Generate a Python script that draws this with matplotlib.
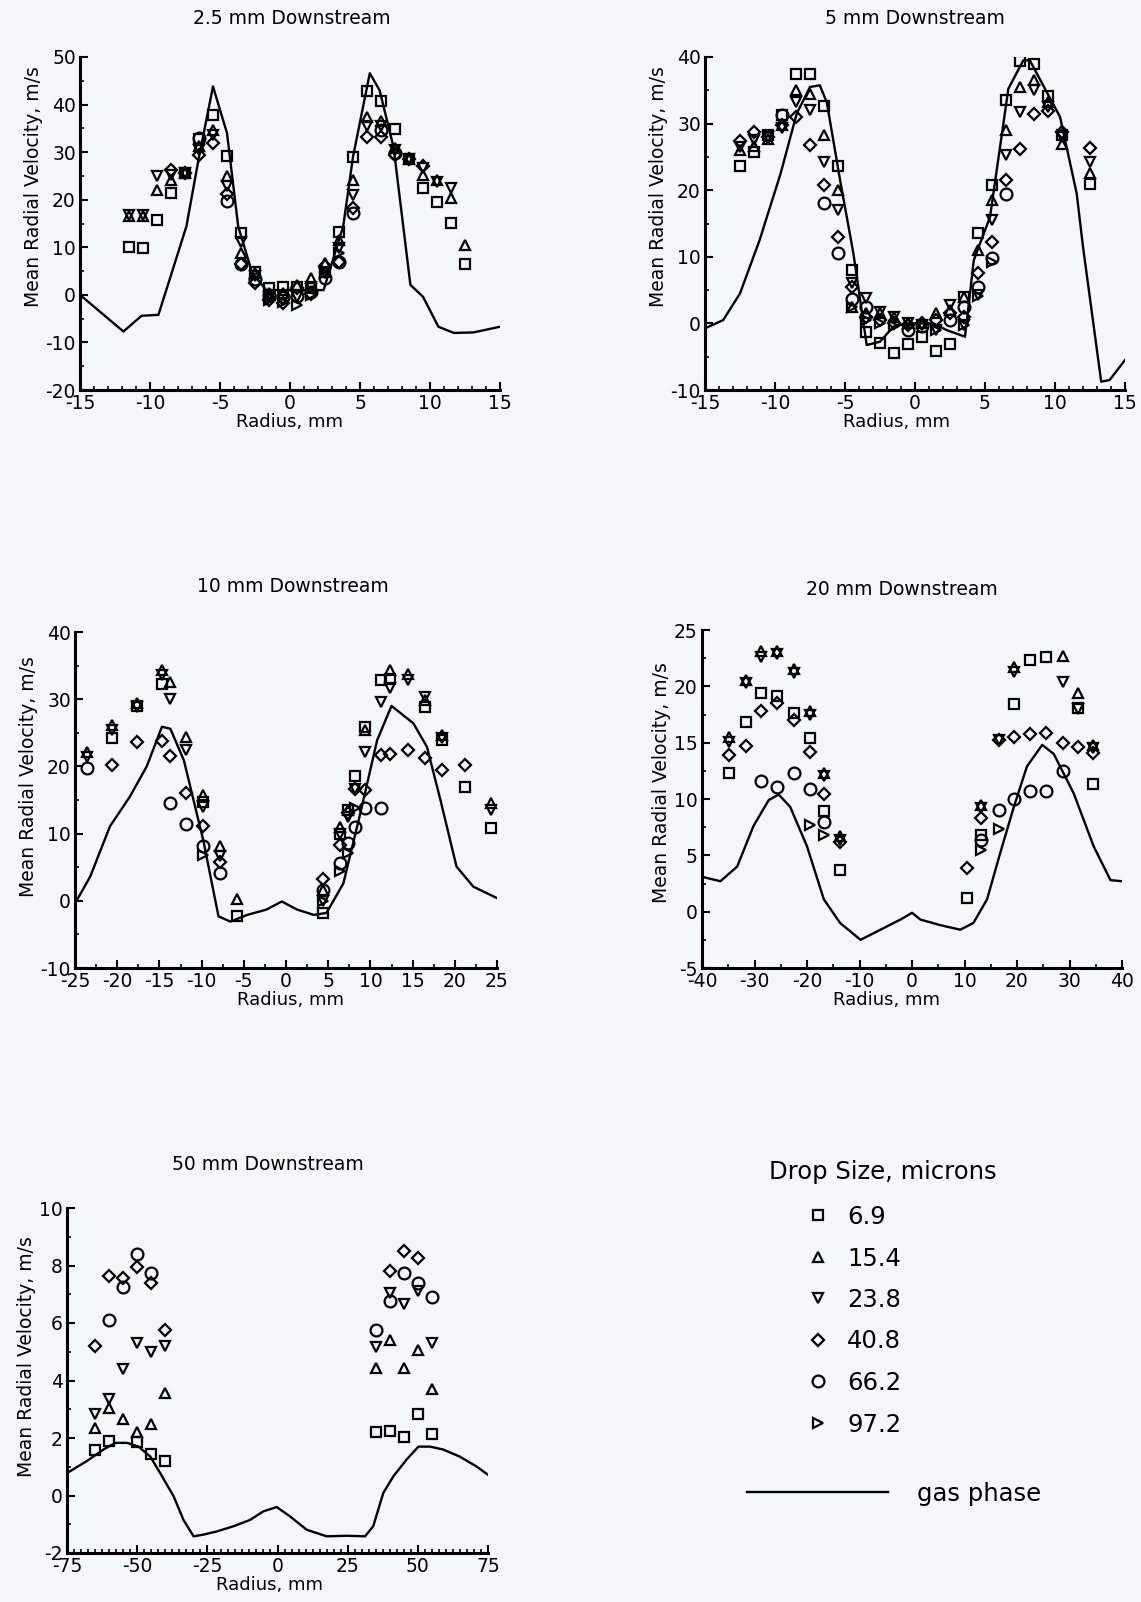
import numpy as np
import matplotlib
matplotlib.use("Agg")
import matplotlib.pyplot as plt
from matplotlib.ticker import MultipleLocator
from matplotlib.lines import Line2D

plt.rcParams['font.family'] = ['DejaVu Sans']
plt.rcParams['axes.unicode_minus'] = False

# ---------------- data ----------------
sizes = ['6.9', '15.4', '23.8', '40.8', '66.2', '97.2']
markers = ['s', '^', 'v', 'D', 'o', '>']
msizes = [6.5, 7.5, 7.5, 6.5, 8.5, 6.5]

# 2.5 mm downstream
p1_r = [-11.5, -10.5, -9.5, -8.5, -7.5, -6.5, -5.5, -4.5, -3.5, -2.5, -1.5, -0.5, 0.5,
        1.5, 2.5, 3.5, 4.5, 5.5, 6.5, 7.5, 8.5, 9.5, 10.5, 11.5, 12.5]
p1_sq = [10.0, 9.8, 15.8, 21.5, 25.6, 32.8, 37.9, 29.2, 13.1, 4.9, 1.4, 1.7, 1.7,
         1.4, 4.9, 13.3, 29.0, 42.8, 40.8, 34.9, 28.5, 22.4, 19.5, 15.2, 6.5]
p1_tu = [16.6, 16.5, 22.0, 24.2, 25.6, 31.3, 34.7, 24.9, 8.8, 4.6, 0.4, 0.4, 2.1,
         3.5, 6.7, 11.6, 24.2, 37.4, 36.5, 30.9, 28.5, 25.2, 24.2, 20.3, 10.5]
p1_td = [16.8, 16.8, 24.9, 25.2, 25.6, 30.5, 33.7, 22.8, 11.2, 3.9, -0.4, -1.1, -0.4,
         1.7, 4.6, 9.8, 21.0, 35.6, 35.4, 30.5, 28.5, 26.6, 23.8, 22.4, None]
p1_di = [None, None, None, 26.3, 25.6, 29.5, 31.9, 21.2, 6.5, 2.5, -1.1, -1.8, 1.4,
         0.2, 6.0, 7.0, 18.2, 33.2, 33.2, 29.5, 28.5, 27.1, None, None, None]
p1_ci = [None, None, None, None, None, 32.9, None, 19.8, 6.5, 3.3, 0.0, -0.4, -0.2,
         0.7, 3.5, 7.0, 17.3, None, 34.7, 29.8, None, None, None, None, None]
p1_rt = [None, None, None, None, None, None, None, None, None, None, -1.1, -1.4, -2.1,
         0.0, 4.6, 8.8, None, None, None, None, None, None, None, None, None]
p1_gas_r = [-15, -11.9, -10.6, -9.4, -8.45, -7.4, -6.5, -5.5, -4.5, -3.7, -2.7, -1.7, 0,
            1.5, 2.4, 3.8, 4.5, 5.7, 6.4, 7.4, 8.6, 9.5, 10.6, 11.7, 13.1, 15]
p1_gas_v = [0, -7.7, -4.4, -4.2, 4.6, 14.4, 29, 43.8, 34, 14.4, 4.6, 1.0, 1.0,
            1.0, 1.0, 14.4, 29, 46.6, 43, 31, 2.1, -0.4, -6.7, -8, -7.9, -6.7]

# 5 mm downstream
p2_r = [-12.5, -11.5, -10.5, -9.5, -8.5, -7.5, -6.5, -5.5, -4.5, -3.5, -2.5, -1.5, -0.5,
        0.5, 1.5, 2.5, 3.5, 4.5, 5.5, 6.5, 7.5, 8.5, 9.5, 10.5, 12.5]
p2_sq = [23.6, 25.75, 28.25, 31.25, 37.5, 37.5, 32.6, 23.6, 8.0, -1.25, -3.0, -4.4, -3.1,
         -2.0, -4.1, -3.1, 4.0, 13.6, 20.75, 33.5, 39.35, 39.0, 34.1, 28.25, 21.0]
p2_tu = [26.0, 26.6, 27.75, 29.75, 35.0, 34.5, 28.25, 20.1, 2.5, 1.5, 1.5, 1.0, 0.0,
         0.0, 1.5, 2.0, 4.0, 11.0, 18.5, 29.0, 35.5, 36.5, 33.25, 27.0, 22.6]
p2_td = [26.5, 27.5, 28.0, 29.4, 33.25, 32.0, 24.25, 17.0, 6.0, 3.75, 1.75, 1.0, 0.0,
         -0.25, -1.0, 2.75, -0.25, 4.25, 15.5, 25.25, 31.75, 35.0, 32.5, 28.0, 24.25]
p2_di = [27.4, 28.75, 28.0, 29.75, 31.0, 26.75, 20.75, 13.0, 5.5, 1.0, 0.5, 0.0, -0.3,
         0.0, 0.5, 1.5, 1.0, 7.5, 12.25, 21.5, 26.25, 31.4, 31.9, 28.75, 26.4]
p2_ci = [None, None, None, 31.25, None, None, 18.1, 10.5, 3.6, 2.5, None, None, -1.0,
         -0.4, None, 0.5, 2.5, 5.5, 9.75, 19.4, None, None, None, None, None]
p2_rt = [None, None, None, None, None, None, None, None, 2.5, 0.5, 0.0, -0.4, None,
         None, -1.0, None, -0.25, 4.1, 9.25, None, None, None, None, None, None]
p2_gas_r = [-15, -13.7, -12.5, -11.1, -9.6, -8.45, -7.5, -6.8, -6.3, -5.35, -4.4, -3.45,
            -2.5, -1.55, -0.6, 0.36, 1.3, 2.26, 3.57, 4.2, 5.36, 6.67, 7.74, 8.2, 10.36,
            11.55, 12, 13.3, 13.9, 15]
p2_gas_v = [-0.75, 0.5, 4.5, 12.5, 22.5, 31.5, 35.5, 35.75, 33.2, 21.5, 10.5, -3.25,
            -2.75, -0.5, 0, 0, 0, -1, -2, 9.5, 16, 35.25, 39.5, 39.5, 31,
            19.5, 11.5, -8.75, -8.5, -5.5]

# 10 mm downstream
p3_r = [-23.6, -20.6, -17.7, -14.7, -13.7, -11.9, -9.8, -7.8, -5.8, 4.4, 6.4, 7.4, 8.2,
        9.4, 11.3, 12.3, 14.5, 16.5, 18.5, 21.2, 24.3]
p3_sq = [None, 24.2, 29.0, 32.3, None, None, 14.75, None, -2.3, -1.8, 10.0, 13.5, 18.5,
         25.9, 32.8, 33.0, None, 28.9, 23.9, 16.9, 10.9]
p3_tu = [22.2, 26.1, 29.4, 34.3, 32.6, 24.4, 15.7, 8.1, 0.2, 1.6, 11.0, 13.5, None,
         25.4, None, 34.3, 33.8, 29.9, 24.7, None, 14.5]
p3_td = [21.4, 25.4, 28.9, 33.6, 30.1, 22.4, 14.0, 6.6, None, -0.1, 10.0, 12.5, 16.7,
         22.2, 29.6, 31.6, 32.8, 30.3, 24.2, None, 13.5]
p3_di = [None, 20.2, 23.7, 23.8, 21.5, 16.1, 11.1, 5.8, None, 3.2, 8.3, 13.0, 16.7,
         16.5, 21.7, 21.9, 22.4, 21.2, 19.5, 20.2, None]
p3_ci = [19.7, None, None, None, 14.6, 11.4, 8.1, 4.1, None, 1.6, 5.6, 8.6, 11.0,
         13.8, 13.8, None, None, None, None, None, None]
p3_rt = [None, None, None, None, None, None, 6.8, None, None, -0.1, 4.4, 7.1, 13.8,
         None, None, None, None, None, None, None, None]
p3_gas_r = [-25, -23.2, -20.85, -18.5, -16.5, -14.7, -13.7, -12.1, -9.8, -8, -6.6, -4.6,
            -2.3, -0.5, 1.3, 3.3, 4.8, 6.8, 8.8, 10.8, 12.5, 15.1, 16.7, 18.3, 20.2,
            22.2, 25]
p3_gas_v = [-0.4, 3.6, 11.1, 15.5, 20, 25.9, 25.6, 20.9, 9, -2.3, -3.1, -2.1,
            -1.3, -0.1, -1.3, -2.1, -1.8, 2.6, 13, 23.9, 29, 26.4, 22.9, 15, 5.1,
            2.1, 0.4]

# 20 mm downstream
p4_r = [-34.9, -31.7, -28.8, -25.7, -22.5, -19.5, -16.8, -13.7, 10.5, 13.1, 16.5, 19.5,
        22.5, 25.6, 28.8, 31.6, 34.5]
p4_sq = [12.3, 16.8, 19.4, 19.1, 17.6, 15.4, 8.9, 3.7, 1.2, 6.8, None, 18.4,
         22.3, 22.6, None, 18.1, 11.3]
p4_tu = [15.5, 20.6, 23.1, 23.1, 21.5, 17.8, 12.3, 6.7, None, 9.5, None, 21.7,
         None, None, 22.7, 19.4, 14.8]
p4_td = [15.1, 20.3, 22.6, 22.9, 21.2, 17.5, 12.0, 6.4, None, 9.2, 15.2, 21.3,
         None, None, 20.4, 18.0, 14.5]
p4_di = [13.9, 14.7, 17.8, 18.5, 17.0, 14.2, 10.4, 6.2, 3.9, 8.3, 15.2, 15.5,
         15.8, 15.9, 15.0, 14.6, 14.1]
p4_ci = [None, None, 11.6, 11.1, 12.3, 10.9, 8.0, None, None, 6.4, 9.0, 10.0,
         10.7, 10.7, 12.5, None, None]
p4_rt = [None, None, None, None, None, 7.7, 6.8, None, None, 5.5, 7.3, None,
         None, None, None, None, None]
p4_gas_r = [-40, -36.5, -33.3, -30.2, -27.3, -25.4, -23.2, -20, -16.8, -13.7, -9.8, -6,
            -2.2, 0, 1.6, 5.4, 9.2, 11.7, 14.3, 16.8, 19.4, 21.9, 24.8, 27, 30.8, 34.6,
            37.8, 40]
p4_gas_v = [3.1, 2.7, 4, 7.6, 9.9, 10.4, 9.3, 5.8, 1.1, -1, -2.5, -1.6,
            -0.7, -0.1, -0.7, -1.2, -1.6, -1, 1.1, 5.2, 9.3, 12.9, 14.8, 14, 10.5, 5.8,
            2.8, 2.7]

# 50 mm downstream
p5_r = [-65, -60, -55, -50, -45, -40, 35, 40, 45, 50, 55]
p5_sq = [1.6, 1.9, None, 1.85, 1.45, 1.2, 2.2, 2.25, 2.05, 2.85, 2.15]
p5_tu = [2.35, 3.05, 2.65, 2.2, 2.5, 3.55, 4.45, 5.4, 4.45, 5.05, 3.7]
p5_td = [2.85, 3.35, 4.4, 5.3, 5.0, 5.2, 5.15, 7.05, 6.65, 7.1, 5.3]
p5_di = [5.2, 7.65, 7.55, 7.95, 7.4, 5.75, None, 7.8, 8.5, 8.25, None]
p5_ci = [None, 6.1, 7.25, 8.4, 7.75, None, 5.75, 6.75, 7.75, 7.4, 6.9]
p5_rt = [None, None, None, None, None, None, None, None, None, None, None]
p5_gas_r = [-75, -67.9, -62, -57.8, -53.6, -49.5, -45.3, -41.8, -37, -33.5, -29.9, -26.4,
            -21.6, -15.7, -9.8, -5, -0.3, 4.5, 10.4, 17.5, 24.6, 31.2, 34.1, 37.7, 41.3,
            46, 50.2, 54.3, 59, 65, 70.9, 75]
p5_gas_v = [0.78, 1.2, 1.6, 1.83, 1.83, 1.7, 1.35, 0.78, -0.03, -0.85, -1.42, -1.36,
            -1.25, -1.07, -0.85, -0.55, -0.4, -0.73, -1.19, -1.42, -1.4, -1.42, -1.07,
            0.09, 0.67, 1.25, 1.7, 1.7, 1.6, 1.35, 1.01, 0.72]

W, H = 1141, 1602
bg = '#f4f7f9'
fig = plt.figure(figsize=(W / 100, H / 100), dpi=100, facecolor=bg)


def px_axes(l, r, t, b):
    return fig.add_axes([l / W, 1 - b / H, (r - l) / W, (b - t) / H])


panels = [
    dict(box=(80, 500, 57, 390), title='2.5 mm Downstream', tx=0.505, pad=24,
         lx=0.5, ly=0.61,
         r=p1_r, ys=[p1_sq, p1_tu, p1_td, p1_di, p1_ci, p1_rt], gr=p1_gas_r, gv=p1_gas_v,
         xlim=(-15, 15), ylim=(-20, 50), xmaj=5, xmin=1, ymaj=10, ymin=5),
    dict(box=(705, 1125, 57, 390), title='5 mm Downstream', tx=0.5, pad=24,
         lx=0.457, ly=0.61,
         r=p2_r, ys=[p2_sq, p2_tu, p2_td, p2_di, p2_ci, p2_rt], gr=p2_gas_r, gv=p2_gas_v,
         xlim=(-15, 15), ylim=(-10, 40), xmaj=5, xmin=1, ymaj=10, ymin=5),
    dict(box=(75, 497, 632, 968), title='10 mm Downstream', tx=0.517, pad=29,
         lx=0.51, ly=0.57,
         r=p3_r, ys=[p3_sq, p3_tu, p3_td, p3_di, p3_ci, p3_rt], gr=p3_gas_r, gv=p3_gas_v,
         xlim=(-25, 25), ylim=(-10, 40), xmaj=5, xmin=2.5, ymaj=10, ymin=5),
    dict(box=(702, 1122, 630, 968), title='20 mm Downstream', tx=0.476, pad=25,
         lx=0.44, ly=0.55,
         r=p4_r, ys=[p4_sq, p4_tu, p4_td, p4_di, p4_ci, p4_rt], gr=p4_gas_r, gv=p4_gas_v,
         xlim=(-40, 40), ylim=(-5, 25), xmaj=10, xmin=5, ymaj=5, ymin=2.5),
    dict(box=(67, 488, 1208, 1553), title='50 mm Downstream', tx=0.476, pad=27,
         lx=0.48, ly=0.57,
         r=p5_r, ys=[p5_sq, p5_tu, p5_td, p5_di, p5_ci, p5_rt], gr=p5_gas_r, gv=p5_gas_v,
         xlim=(-75, 75), ylim=(-2, 10), xmaj=25, xmin=2.5, ymaj=2, ymin=1),
]

for p in panels:
    ax = px_axes(*p['box'])
    ax.set_facecolor(bg)
    ax.plot(p['gr'], p['gv'], color='black', lw=1.7, zorder=2)
    r = np.array(p['r'], dtype=float)
    for ys, m, ms in zip(p['ys'], markers, msizes):
        y = np.array([np.nan if v is None else v for v in ys], dtype=float)
        ax.plot(r, y, ls='none', marker=m, ms=ms, mfc='none', mec='black', mew=1.6,
                zorder=3)
    ax.set_xlim(*p['xlim'])
    ax.set_ylim(*p['ylim'])
    ax.xaxis.set_major_locator(MultipleLocator(p['xmaj']))
    ax.xaxis.set_minor_locator(MultipleLocator(p['xmin']))
    ax.yaxis.set_major_locator(MultipleLocator(p['ymaj']))
    ax.yaxis.set_minor_locator(MultipleLocator(p['ymin']))
    for s in ['top', 'right']:
        ax.spines[s].set_visible(False)
    for s in ['left', 'bottom']:
        ax.spines[s].set_linewidth(2.2)
    ax.tick_params(which='major', direction='in', length=6, width=1.5, labelsize=13.5,
                   pad=3)
    ax.tick_params(which='minor', direction='in', length=3, width=1.2)
    ax.set_xlabel('Radius, mm', fontsize=13, labelpad=0, x=p['lx'])
    ax.set_ylabel('Mean Radial Velocity, m/s', fontsize=13.5, labelpad=2, y=p['ly'])
    ax.set_title(p['title'], fontsize=13.5, x=p['tx'], pad=p['pad'])

# legend
fig.text(883 / W, 1 - 1172 / H, 'Drop Size, microns', fontsize=17.5, ha='center',
         va='center')
handles = [Line2D([], [], ls='none', marker=m, ms=ms, mfc='none', mec='black', mew=1.6)
           for m, ms in zip(markers, msizes)]
leg1 = fig.legend(handles, sizes, loc='upper left', bbox_to_anchor=(806 / W, 1 - 1205 / H),
                  frameon=False, fontsize=17.5, handlelength=1.0, handletextpad=0.7,
                  labelspacing=0.72, borderpad=0, borderaxespad=0)
gas = Line2D([], [], color='black', lw=1.7)
leg2 = fig.legend([gas], ['gas phase'], loc='center left',
                  bbox_to_anchor=(747 / W, 1 - 1494 / H), frameon=False, fontsize=17.5,
                  handlelength=5.8, handletextpad=1.2, borderpad=0, borderaxespad=0)

fig.savefig('out.png', dpi=100, facecolor=bg)
